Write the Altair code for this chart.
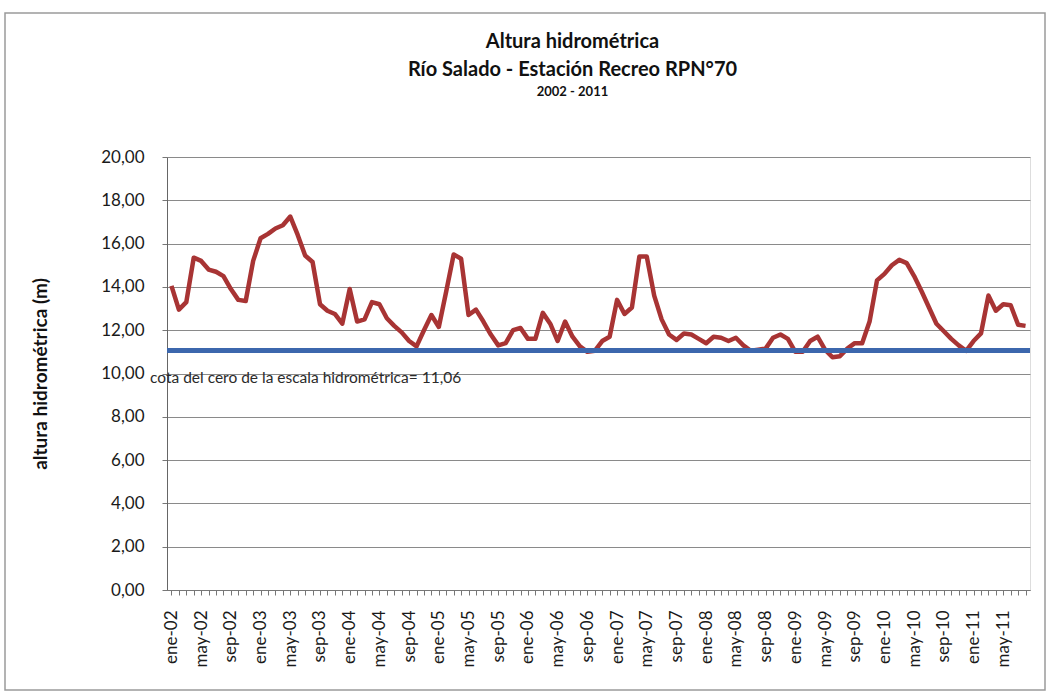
import altair as alt
import pandas as pd

# Monthly river stage, Jan 2002 - Aug 2011 (metres)
meses_abrev = ["ene", "feb", "mar", "abr", "may", "jun", "jul", "ago", "sep", "oct", "nov", "dic"]
anios = ["02", "03", "04", "05", "06", "07", "08", "09", "10", "11"]

altura = [
    14.05, 12.95, 13.30, 15.35, 15.20, 14.80, 14.70, 14.50, 13.90, 13.40, 13.35, 15.20,  # 2002
    16.25, 16.45, 16.70, 16.85, 17.25, 16.40, 15.45, 15.15, 13.20, 12.90, 12.75, 12.30,  # 2003
    13.90, 12.40, 12.50, 13.30, 13.20, 12.55, 12.20, 11.90, 11.50, 11.25, 12.00, 12.70,  # 2004
    12.15, 13.80, 15.50, 15.30, 12.70, 12.95, 12.40, 11.80, 11.30, 11.40, 12.00, 12.10,  # 2005
    11.60, 11.60, 12.80, 12.30, 11.50, 12.40, 11.70, 11.25, 11.00, 11.05, 11.50, 11.70,  # 2006
    13.40, 12.75, 13.05, 15.40, 15.40, 13.60, 12.50, 11.80, 11.55, 11.85, 11.80, 11.60,  # 2007
    11.40, 11.70, 11.65, 11.50, 11.65, 11.30, 11.05, 11.10, 11.15, 11.65, 11.80, 11.60,  # 2008
    11.00, 11.00, 11.50, 11.70, 11.10, 10.75, 10.80, 11.15, 11.40, 11.40, 12.40, 14.30,  # 2009
    14.60, 15.00, 15.25, 15.10, 14.50, 13.80, 13.05, 12.30, 11.95, 11.60, 11.30, 11.05,  # 2010
    11.50, 11.85, 13.60, 12.90, 13.20, 13.15, 12.25, 12.20,                              # 2011
]

# Zero of the gauge scale
cota_cero = 11.06

meses = [f"{m}-{a}" for a in anios for m in meses_abrev][: len(altura)]

serie = pd.DataFrame({"mes": meses, "altura": altura})
cota_df = pd.DataFrame({
    "cota": [cota_cero],
    "texto": ["cota del cero de la escala hidrométrica= " + f"{cota_cero:.2f}".replace(".", ",")],
})
marco_df = pd.DataFrame({"k": [0]})

FONT = "Lato"
W, H = 863, 433

x_enc = alt.X(
    "mes:O",
    sort=meses,
    scale=alt.Scale(type="point", padding=0.6),
    axis=alt.Axis(
        title=None,
        labelAngle=-90,
        labelExpr="(slice(datum.value,0,3)=='ene' || slice(datum.value,0,3)=='may' || slice(datum.value,0,3)=='sep') ? datum.value : ''",
        labelOverlap=False,
        labelFont=FONT,
        labelFontSize=17,
        labelColor="#1a1a1a",
        labelPadding=15,
        tickSize=5,
        tickColor="#777777",
        domainColor="#777777",
        grid=False,
    ),
)

y_enc = alt.Y(
    "altura:Q",
    scale=alt.Scale(domain=[0, 20], nice=False),
    axis=alt.Axis(
        values=list(range(0, 21, 2)),
        labelExpr="replace(format(datum.value, '.2f'), '.', ',')",
        labelFont=FONT,
        labelFontSize=17,
        labelColor="#1a1a1a",
        labelPadding=18,
        tickSize=5,
        tickColor="#777777",
        domainColor="#666666",
        gridColor="#8a8a8a",
        gridWidth=1,
        title="altura hidrométrica (m)",
        titleFont=FONT,
        titleFontSize=19,
        titleFontWeight="bold",
        titleColor="#111111",
        titleAngle=270,
        titleX=-127,
        titleY=H / 2,
        titleAlign="center",
        titleBaseline="middle",
    ),
)

linea = alt.Chart(serie).mark_line(
    color="#A83434", strokeWidth=4.5, strokeJoin="round"
).encode(x=x_enc, y=y_enc)

cota = alt.Chart(cota_df).mark_rule(color="#3C67AD", strokeWidth=5).encode(
    y=alt.Y("cota:Q")
)

etiqueta = alt.Chart(cota_df).mark_text(
    align="left", baseline="middle", font=FONT, fontSize=15.5, color="#2a2a2a", dy=27
).encode(x=alt.value(-17), y=alt.Y("cota:Q"), text="texto:N")

marco = alt.Chart(marco_df).mark_rect(
    filled=False, stroke="#9a9a9a", strokeWidth=1.5
).encode(
    x=alt.value(-162), x2=alt.value(878), y=alt.value(-144), y2=alt.value(533)
)

chart = alt.layer(marco, linea, cota, etiqueta).properties(
    width=W,
    height=H,
    padding={"left": 167, "top": 157, "right": 21, "bottom": 105},
    autosize=alt.AutoSizeParams(type="none"),
    title=alt.TitleParams(
        text=["Altura hidrométrica", "Río Salado - Estación Recreo RPN°70"],
        subtitle="2002 - 2011",
        font=FONT,
        fontSize=20,
        fontWeight="bold",
        color="#111111",
        lineHeight=28,
        subtitleFont=FONT,
        subtitleFontSize=13,
        subtitleFontWeight="bold",
        subtitleColor="#111111",
        subtitlePadding=6,
        anchor="middle",
        frame="group",
        dx=-26,
        offset=-87,
    ),
).configure_view(stroke=None).configure(background="white")

chart.save("out.html", embed_options={"renderer": "svg", "actions": False})
